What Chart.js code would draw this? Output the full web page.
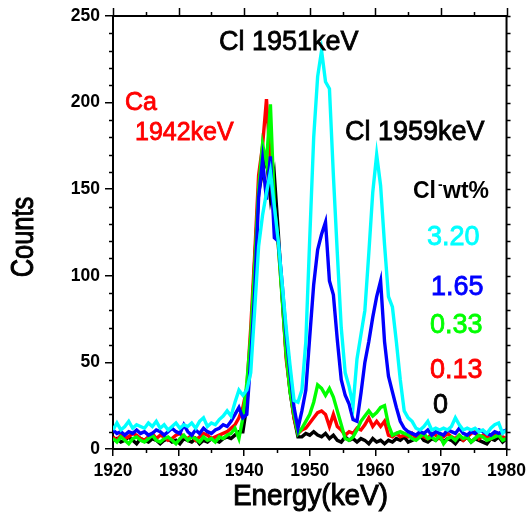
<!DOCTYPE html>
<html>
<head>
<meta charset="utf-8">
<script src="https://cdn.jsdelivr.net/npm/chart.js@4.4.1/dist/chart.umd.min.js"></script>
<style>
html,body{margin:0;padding:0;background:#fff;}
canvas{display:block;}
</style>
</head>
<body>
<canvas id="c" width="531" height="524"></canvas>
<script>
// Energy channels (keV)
const energy = [
1920.0,1920.6,1921.2,1921.8,1922.4,1923.0,1923.6,1924.2,1924.8,1925.4,
1926.0,1926.6,1927.2,1927.8,1928.4,1929.0,1929.6,1930.2,1930.8,1931.4,
1932.0,1932.6,1933.2,1933.8,1934.4,1935.0,1935.6,1936.2,1936.8,1937.4,
1938.0,1938.6,1939.2,1939.8,1940.4,1941.0,1941.6,1942.2,1942.8,1943.4,
1944.0,1944.6,1945.2,1945.8,1946.4,1947.0,1947.6,1948.2,1948.8,1949.4,
1950.0,1950.6,1951.2,1951.8,1952.4,1953.0,1953.6,1954.2,1954.8,1955.4,
1956.0,1956.6,1957.2,1957.8,1958.4,1959.0,1959.6,1960.2,1960.8,1961.4,
1962.0,1962.6,1963.2,1963.8,1964.4,1965.0,1965.6,1966.2,1966.8,1967.4,
1968.0,1968.6,1969.2,1969.8,1970.4,1971.0,1971.6,1972.2,1972.8,1973.4,
1974.0,1974.6,1975.2,1975.8,1976.4,1977.0,1977.6,1978.2,1978.8,1979.4,
1980.0];

// Counts per Cl- wt% sample
const cl320 = [
11,15,11,13,16,12,14,13,12,15,
13,16,12,14,11,13,15,12,14,13,
15,12,16,18,13,15,14,17,19,22,
19,27,34,31,34,44,80,117,135,148,
160,140,120,95,70,48,28,27,34,62,
122,180,215,230,212,208,158,113,70,44,
36,25,52,66,80,113,148,170,152,118,
88,82,62,40,22,18,16,12,11,13,
16,11,12,11,12,11,13,18,14,11,
12,11,12,10,11,9,12,14,15,9,
11];
const cl165 = [
11,9,10,8,10,9,11,9,10,8,
9,11,10,8,10,12,10,9,14,10,
8,11,9,12,10,9,11,12,14,13,
16,20,24,18,20,52,90,145,167,144,
169,122,120,95,66,44,24,12,22,34,
65,95,115,124,131,97,89,63,40,31,
26,17,16,32,50,62,76,88,97,62,
42,33,24,16,12,10,9,8,10,9,
11,8,10,9,8,11,10,9,12,9,
8,10,9,11,10,9,8,10,9,10,
11];
const cl033 = [
6,4,7,5,3,6,7,5,4,6,
8,5,4,6,7,5,3,6,8,5,
7,6,4,7,5,6,4,7,6,8,
9,12,6,18,38,65,105,150,176,165,
199,140,118,86,55,33,20,9,12,16,
20,27,37,35,31,35,30,22,14,6,
5,7,11,16,19,22,19,21,24,25,
14,8,9,10,9,8,6,5,7,9,
6,7,5,8,3,6,7,5,8,6,
7,4,6,8,7,5,6,7,8,5,
6];
const cl013 = [
7,5,8,6,7,9,8,6,5,7,
9,6,8,7,5,6,8,9,7,6,
8,5,7,9,8,6,7,8,9,10,
12,14,18,24,35,70,112,158,175,202,
165,130,118,88,52,34,18,9,11,12,
15,18,21,22,20,13,20,13,11,8,
10,9,12,11,14,18,13,16,13,16,
8,7,9,7,8,7,9,6,8,7,
6,9,8,6,7,9,7,6,8,5,
7,9,10,6,8,7,6,9,8,7,
6];
const cl000 = [
5,6,4,5,7,5,3,6,5,4,
6,5,3,5,6,4,5,3,6,5,
4,6,3,5,4,6,5,4,6,7,
6,8,10,10,25,60,108,148,160,168,
145,158,125,88,55,33,18,7,7,9,
8,10,8,7,9,6,8,5,4,7,
5,6,4,6,5,3,6,4,5,3,
5,4,6,5,7,4,5,6,8,5,
4,6,5,7,4,6,5,3,6,5,
7,4,6,5,4,3,6,5,7,4,
6];

const seriesLabels = ['3.20','1.65','0.33','0.13','0'];
const seriesColors = ['#00FFFF','#0000FF','#00FF00','#FF0000','#000000'];
const seriesData = [cl320, cl165, cl033, cl013, cl000];

const xTicks = [1920,1930,1940,1950,1960,1970,1980];
const yTicks = [0,50,100,150,200,250];
const xMinor = [1925,1935,1945,1955,1965,1975];

const FONT = "'Liberation Sans', Arial, Helvetica, sans-serif";

function txt(ctx, s, x, y, size, color, opts) {
  opts = opts || {};
  ctx.save();
  ctx.font = (opts.bold ? 'bold ' : '') + size + 'px ' + FONT;
  ctx.fillStyle = color;
  ctx.strokeStyle = color;
  ctx.textBaseline = 'alphabetic';
  ctx.textAlign = opts.align || 'left';
  ctx.translate(x, y);
  if (opts.rot) ctx.rotate(opts.rot);
  ctx.scale(opts.sx || 1, 1);
  ctx.fillText(s, 0, 0);
  if (!opts.bold) { ctx.lineWidth = opts.stroke || 0.8; ctx.strokeText(s, 0, 0); }
  ctx.restore();
}

const framePlugin = {
  id: 'frame',
  beforeDraw(chart) {
    const ctx = chart.ctx;
    ctx.save();
    ctx.fillStyle = '#fff';
    ctx.fillRect(0, 0, chart.width, chart.height);
    ctx.restore();
  },
  afterDraw(chart) {
    const { ctx, chartArea: a, scales: { x, y } } = chart;
    ctx.save();
    ctx.strokeStyle = '#000';
    ctx.lineWidth = 2;
    ctx.beginPath();
    ctx.moveTo(a.left, a.top); ctx.lineTo(a.right, a.top); ctx.lineTo(a.right, a.bottom);
    ctx.stroke();
    ctx.lineWidth = 1.5;
    ctx.beginPath();
    xTicks.forEach(v => { const p = Math.round(x.getPixelForValue(v)) + 0.5; ctx.moveTo(p, a.top); ctx.lineTo(p, a.top - 8); });
    xMinor.forEach(v => {
      const p = Math.round(x.getPixelForValue(v)) + 0.5;
      ctx.moveTo(p, a.top); ctx.lineTo(p, a.top - 4);
      ctx.moveTo(p, a.bottom); ctx.lineTo(p, a.bottom + 4);
    });
    for (let i = 0; i < yTicks.length - 1; i++) {
      for (let k = 1; k < 5; k++) {
        const v = yTicks[i] + (yTicks[i + 1] - yTicks[i]) * k / 5;
        const p = Math.round(y.getPixelForValue(v)) + 0.5;
        ctx.moveTo(a.left, p); ctx.lineTo(a.left - 4, p);
        ctx.moveTo(a.right, p); ctx.lineTo(a.right + 4, p);
      }
    }
    yTicks.forEach(v => { const p = Math.round(y.getPixelForValue(v)) + 0.5; ctx.moveTo(a.right, p); ctx.lineTo(a.right + 4, p); });
    ctx.stroke();
    ctx.restore();

    // axis titles
    txt(ctx, 'Counts', 33, 237, 31, '#000', { align: 'center', rot: -Math.PI / 2, sx: 0.82, stroke: 1 });
    txt(ctx, 'Energy(keV)', 310.5, 505, 30, '#000', { align: 'center', sx: 0.93, stroke: 1 });

    // peak annotations
    txt(ctx, 'Cl 1951keV', 219, 50, 27, '#000');
    txt(ctx, 'Ca', 125, 110, 25, '#FF0000');
    txt(ctx, '1942keV', 135, 140, 25, '#FF0000');
    txt(ctx, 'Cl 1959keV', 345, 140, 27, '#000');

    // legend header
    txt(ctx, 'Cl', 413, 198, 23, '#000', { bold: true });
    txt(ctx, '-', 438, 189, 14, '#000', { bold: true });
    txt(ctx, 'wt%', 443, 198, 23, '#000', { bold: true });
    const legendPos = [[427, 245], [431, 295], [430, 333], [430, 378], [433, 413]];
    seriesLabels.forEach((s, i) => txt(ctx, s, legendPos[i][0], legendPos[i][1], 27, seriesColors[i]));
  }
};

new Chart(document.getElementById('c'), {
  type: 'line',
  data: {
    datasets: seriesData.map((arr, i) => ({
      label: seriesLabels[i],
      data: arr.map((v, j) => ({ x: energy[j], y: v })),
      borderColor: seriesColors[i],
      backgroundColor: seriesColors[i],
      borderWidth: 3.4,
      pointRadius: 0,
      tension: 0,
      fill: false
    }))
  },
  options: {
    responsive: false,
    devicePixelRatio: 1,
    animation: false,
    layout: { padding: { left: 0, top: 16, right: 21, bottom: 0 } },
    plugins: { legend: { display: false }, tooltip: { enabled: false } },
    scales: {
      x: {
        type: 'linear', min: 1920, max: 1980,
        afterBuildTicks: s => { s.ticks = xTicks.map(v => ({ value: v })); },
        afterFit: s => { s.height = 75; },
        ticks: { color: '#000', padding: 5, font: { family: FONT, size: 17.5, weight: 'bold' }, maxRotation: 0, autoSkip: false, callback: v => String(v) },
        grid: { drawOnChartArea: false, drawTicks: true, tickLength: 7, color: '#000', lineWidth: 1.5 },
        border: { display: true, color: '#000', width: 2 }
      },
      y: {
        type: 'linear', min: 0, max: 250,
        afterBuildTicks: s => { s.ticks = yTicks.map(v => ({ value: v })); },
        afterFit: s => { s.width = 113; },
        ticks: { color: '#000', padding: 5, font: { family: FONT, size: 17.5, weight: 'bold' }, autoSkip: false, callback: v => String(v) },
        grid: { drawOnChartArea: false, drawTicks: true, tickLength: 8, color: '#000', lineWidth: 1.5 },
        border: { display: true, color: '#000', width: 2 }
      }
    }
  },
  plugins: [framePlugin]
});
</script>
</body>
</html>
